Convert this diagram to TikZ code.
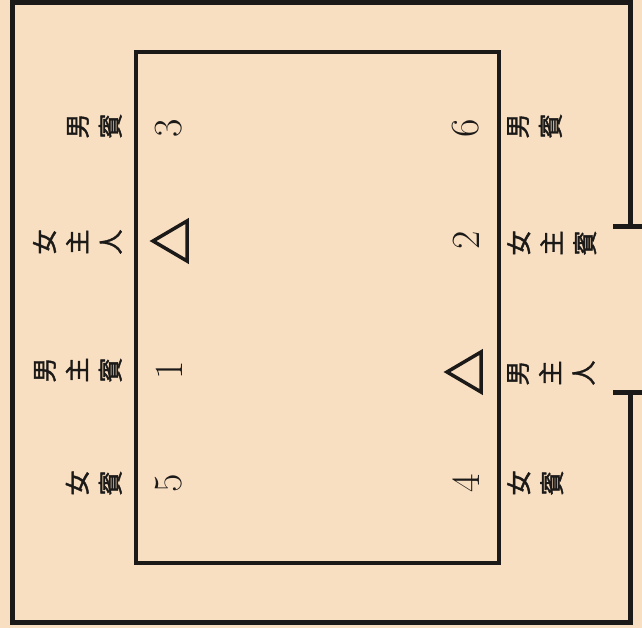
\documentclass[tikz,border=0pt]{standalone}
\usepackage{fontspec}
\newfontfamily\cjk[FakeBold=1.5]{Noto Sans CJK JP}
\definecolor{bg}{HTML}{F9DFC2}
\definecolor{ink}{HTML}{1C1A18}
\begin{document}
\begin{tikzpicture}[x=1pt,y=-1pt,
  wall/.style={line width=5pt, draw=ink, line join=miter},
  tablebox/.style={line width=4.5pt, draw=ink, line join=miter},
  lab/.style={rotate=90, font=\cjk\fontsize{25}{33}\selectfont, align=center, inner sep=0pt, text=ink},
  num/.style={rotate=90, font=\fontsize{40}{40}\selectfont\addfontfeatures{FakeBold=1.2}, inner sep=0pt, text=ink},
  tri/.style={line width=3.5pt, draw=ink, line join=miter}]
\fill[bg] (0,0) rectangle (642,628);
\useasboundingbox (0,0) rectangle (642,628);
% outer room wall with opening on the right
\draw[wall] (630,227) -- (630,2.5) -- (12.5,2.5) -- (12.5,622) -- (630,622) -- (630,392);
\draw[wall] (613,227) -- (642,227);
\draw[wall] (613,392) -- (642,392);
% table
\draw[tablebox] (136,52) rectangle (499,563);
% left column labels
\node[lab, anchor=south] (l1) at (122,126) {男\\賓};
\node[lab, anchor=south] (l2) at (122,242) {女\\主\\人};
\node[lab, anchor=south] (l3) at (122,370) {男\\主\\賓};
\node[lab, anchor=south] (l4) at (122,483) {女\\賓};
% right column labels
\node[lab, anchor=north] (r1) at (507,126) {男\\賓};
\node[lab, anchor=north] (r2) at (507,243) {女\\主\\賓};
\node[lab, anchor=north] (r3) at (507,373) {男\\主\\人};
\node[lab, anchor=north] (r4) at (507,483) {女\\賓};
% seat numbers
\node[num] (n3) at (169,128) {3};
\node[num] (n1) at (169,370) {1};
\node[num] (n5) at (169,483) {5};
\node[num] (n6) at (466,128) {6};
\node[num] (n2) at (466,240) {2};
\node[num] (n4) at (466,483) {4};
% host triangles
\draw[tri] (153,241) -- (187,221) -- (187,261) -- cycle;
\draw[tri] (447,372) -- (481,352) -- (481,392) -- cycle;
\end{tikzpicture}
\end{document}
